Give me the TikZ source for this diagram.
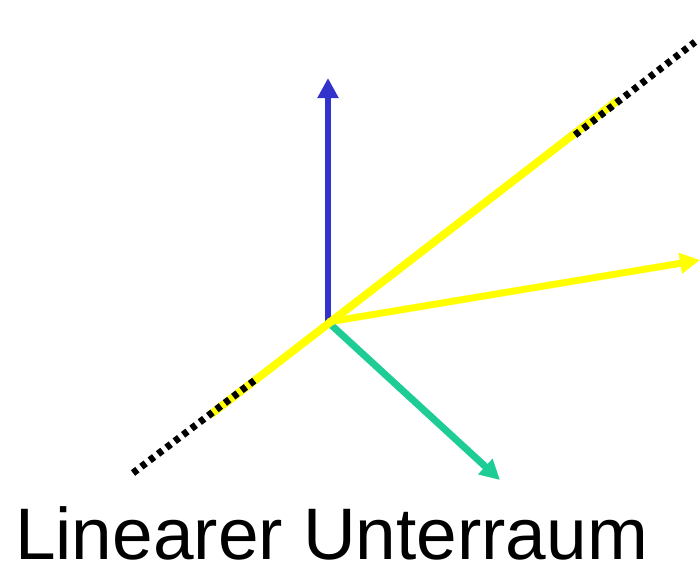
\documentclass[tikz,border=0pt]{standalone}
\usepackage{fontspec}
\setmainfont{Liberation Sans}
\usetikzlibrary{arrows.meta}
\definecolor{vecblue}{RGB}{51,51,204}
\definecolor{vecgreen}{RGB}{30,204,150}
\definecolor{subyellow}{RGB}{255,255,0}
\tikzset{
  vec/.style={line width=7pt, -{Triangle[length=20pt,width=20pt]}},
  dots/.style={line width=7pt, dash pattern=on 5.5pt off 5pt, black}
}
\begin{document}
\begin{tikzpicture}[x=1pt,y=-1pt]
        \useasboundingbox (0,0) rectangle (700,562);
        % Origin and end points of the subspace line
        \coordinate (O) at (328,322);
        \coordinate (lineA) at (133,473);
        \coordinate (lineB) at (695,42);
        \coordinate (yelA) at (210,415);
        \coordinate (yelB) at (618,100);
        \coordinate (dotA) at (255,380);
        \coordinate (dotB) at (575,135);

        % Vectors
        \coordinate (blueTip) at (328,78);
        \coordinate (greenTip) at (500,480);
        \coordinate (yellowTip) at (700,260);
        \draw[vec, vecblue, line width=6pt] (O) -- (blueTip);
        \draw[vec, vecgreen] (O) -- (greenTip);

        % Subspace: yellow line with dotted continuation
        \draw[subyellow, line width=8pt] (yelA) -- (yelB);
        \draw[dots] (lineA) -- (dotA);
        \draw[dots] (dotB) -- (lineB);
        \draw[vec, subyellow] (O) -- (yellowTip);

        % Label
        \node[anchor=base west, inner sep=0pt, font=\fontsize{73}{78}\selectfont] (label) at (15,559) {Linearer Unterraum};
    \end{tikzpicture}
\end{document}
